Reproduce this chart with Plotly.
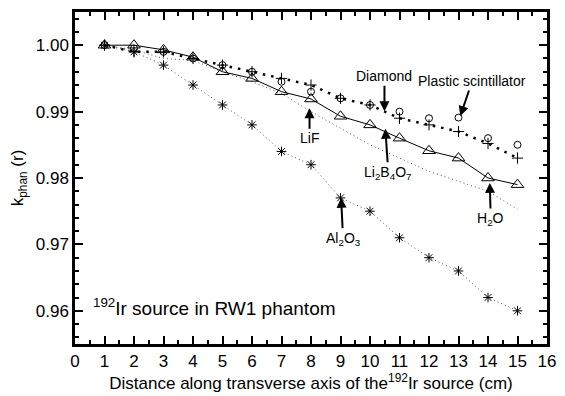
import plotly.graph_objects as go

x = [1, 2, 3, 4, 5, 6, 7, 8, 9, 10, 11, 12, 13, 14, 15]

# Diamond (open circles)
diamond = [1.000, 0.9995, 0.999, 0.998, 0.997, 0.996, 0.9945, 0.993, 0.992, 0.991, 0.990, 0.989, 0.9891, 0.986, 0.985]
# Plastic scintillator (+, thick dotted line)
plastic = [1.000, 0.999, 0.999, 0.998, 0.997, 0.996, 0.995, 0.994, 0.992, 0.991, 0.989, 0.988, 0.9870, 0.9852, 0.983]
# H2O / LiF (triangles with solid line)
water = [1.000, 1.000, 0.9993, 0.9982, 0.996, 0.995, 0.993, 0.9919, 0.9893, 0.988, 0.986, 0.9841, 0.983, 0.980, 0.979]
# Li2B4O7 (thin dotted line)
li2b4o7 = [1.000, 0.9993, 0.998, 0.9977, 0.996, 0.9945, 0.9927, 0.990, 0.9875, 0.985, 0.983, 0.981, 0.9795, 0.978, 0.9753]
# Al2O3 (asterisks, thin dotted line)
al2o3 = [1.000, 0.999, 0.997, 0.994, 0.991, 0.988, 0.984, 0.982, 0.977, 0.975, 0.971, 0.968, 0.966, 0.962, 0.960]

FONT = "Liberation Sans, Arial, Helvetica, sans-serif"

fig = go.Figure()
fig.add_trace(go.Scatter(x=x, y=li2b4o7, mode="lines",
                         line=dict(color="#555555", width=1, dash="1px,3px")))
fig.add_trace(go.Scatter(x=x, y=al2o3, mode="lines+markers",
                         line=dict(color="#555555", width=1, dash="1px,3px"),
                         marker=dict(symbol="asterisk-open", size=8, color="black",
                                     line=dict(color="black", width=1))))
fig.add_trace(go.Scatter(x=x, y=water, mode="lines+markers",
                         line=dict(color="black", width=1),
                         marker=dict(symbol="triangle-up-open", size=11, color="black",
                                     line=dict(color="black", width=1))))
fig.add_trace(go.Scatter(x=x, y=plastic, mode="lines+markers",
                         line=dict(color="black", width=2.5, dash="2.5px,6px"),
                         marker=dict(symbol="cross-thin-open", size=8, color="black",
                                     line=dict(color="black", width=1))))
fig.add_trace(go.Scatter(x=x, y=diamond, mode="markers",
                         marker=dict(symbol="circle-open", size=7, color="black",
                                     line=dict(color="black", width=1))))

ann_font = dict(family=FONT, size=14, color="black")
labels = [
    ("Diamond", 10.49, 0.99007, 0, -35),
    ("Plastic scintillator", 13.06, 0.98933, 12, -35),
    ("LiF", 7.95, 0.99052, 0, 30),
    ("Li<sub>2</sub>B<sub>4</sub>O<sub>7</sub>", 10.52, 0.98741, 3, 44),
    ("H<sub>2</sub>O", 14.06, 0.97926, 1, 36),
    ("Al<sub>2</sub>O<sub>3</sub>", 9.02, 0.97704, 2, 41),
]
for text, ax_, ay_, dx, dy in labels:
    fig.add_annotation(x=ax_, y=ay_, text=text, showarrow=True, ax=dx, ay=dy,
                       arrowhead=2, arrowsize=1, arrowwidth=2, arrowcolor="black",
                       font=ann_font, standoff=0)

fig.add_annotation(x=0.55, y=0.9605, xref="x", yref="y", text="<sup>192</sup>Ir source in RW1 phantom",
                   showarrow=False, xanchor="left", yanchor="middle",
                   font=dict(family=FONT, size=19, color="black"))

axis_common = dict(showgrid=False, zeroline=False, showline=True, linecolor="black",
                   linewidth=2.5, mirror="ticks", ticks="inside", tickcolor="black",
                   tickwidth=1.5, ticklen=8,
                   tickfont=dict(family=FONT, size=17, color="black"))

fig.update_xaxes(range=[0, 16], tickmode="linear", tick0=0, dtick=1,
                 minor=dict(ticks="inside", dtick=0.5, tick0=0, ticklen=4, tickwidth=1.5, tickcolor="black"),
                 title=dict(text="Distance along transverse axis of the<sup>192</sup>Ir source (cm)",
                            font=dict(family=FONT, size=17, color="black"), standoff=4),
                 **axis_common)
fig.update_yaxes(range=[0.955, 1.005], tickmode="linear", tick0=0.96, dtick=0.01, tickformat=".2f",
                 minor=dict(ticks="inside", dtick=0.002, tick0=0.96, ticklen=4, tickwidth=1.5, tickcolor="black"),
                 title=dict(text="k<sub>phan</sub> (r)",
                            font=dict(family=FONT, size=17, color="black"), standoff=8),
                 **axis_common)

fig.update_layout(width=565, height=396, showlegend=False,
                  margin=dict(l=75, r=9, t=9, b=49),
                  plot_bgcolor="white", paper_bgcolor="white",
                  font=dict(family=FONT, color="black"))

fig.write_html("out.html")
